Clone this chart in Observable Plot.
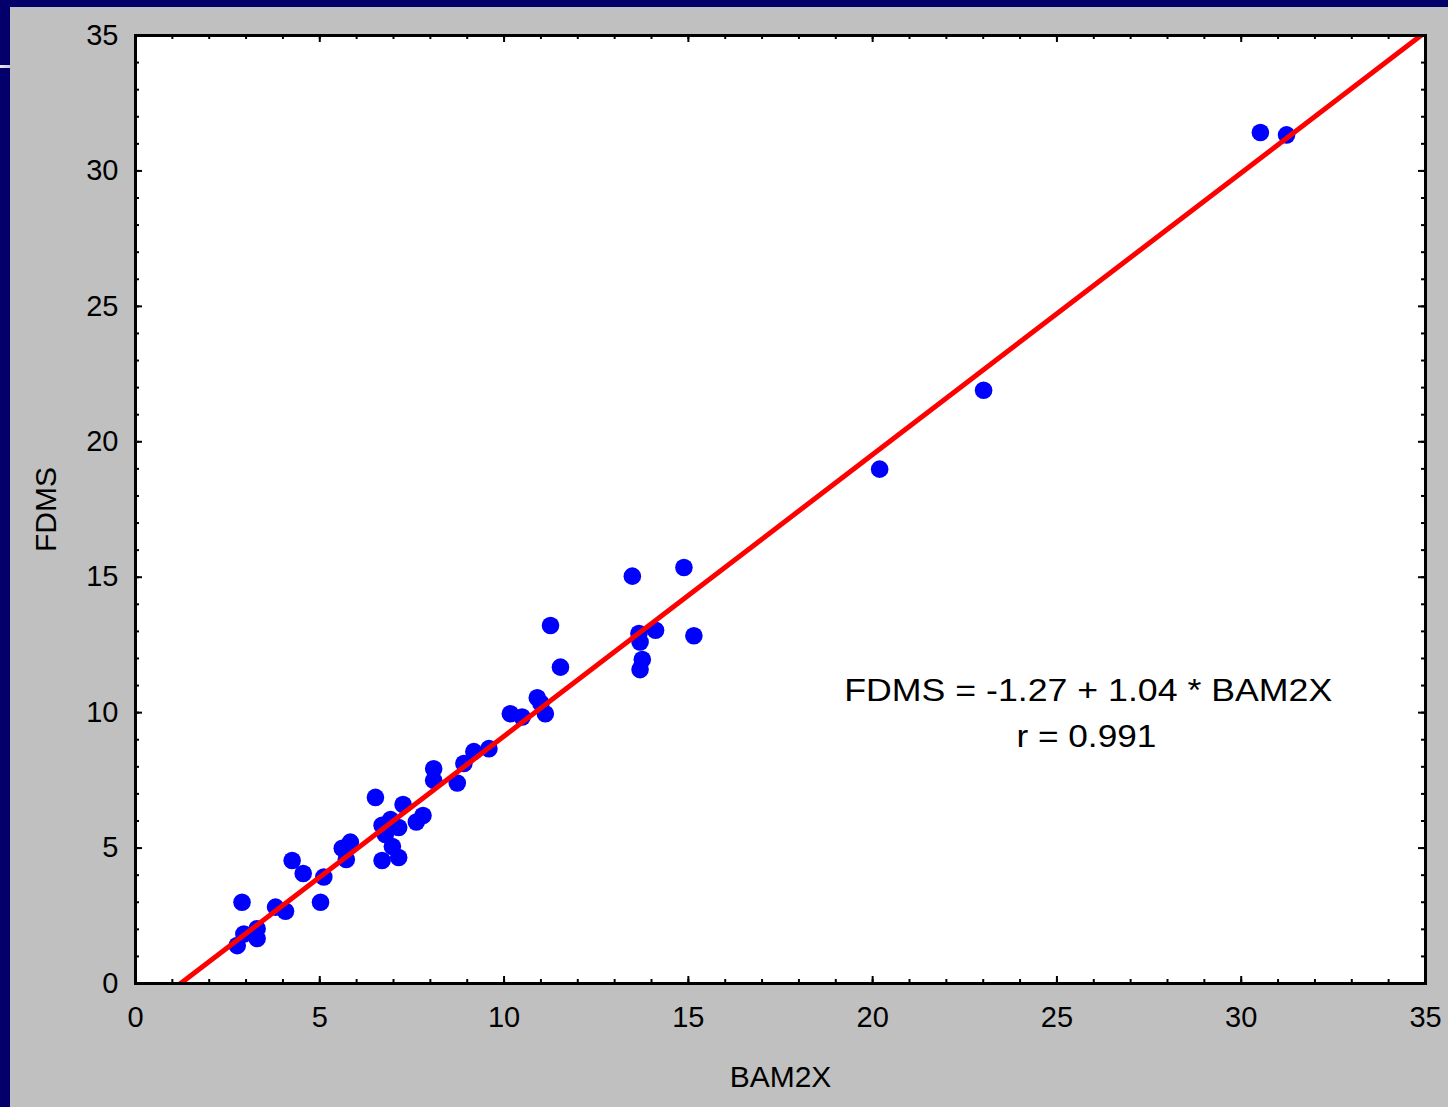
<!DOCTYPE html>
<html>
<head>
<meta charset="utf-8">
<script src="https://cdn.jsdelivr.net/npm/d3@7"></script>
<script src="https://cdn.jsdelivr.net/npm/@observablehq/plot@0.6"></script>
<style>
  html, body { margin: 0; padding: 0; background: #c0c0c0; }
  body { width: 1448px; height: 1107px; position: relative; overflow: hidden; font-family: "Liberation Sans", Arial, sans-serif; }
  #chart { position: absolute; left: 0; top: 0; }
  .navy { position: absolute; background: #03006b; }
  #streak { position: absolute; left: 0; top: 65px; width: 10px; height: 3px; background: linear-gradient(to right, #e8e8f4, #c8c8d8); }
</style>
</head>
<body>
<div id="chart"></div>
<div class="navy" style="left:0;top:0;width:1448px;height:7px;"></div>
<div class="navy" style="left:0;top:0;width:10px;height:1107px;"></div>
<div id="streak"></div>
<script>
// Data
const bam2x = [2.76, 2.94, 3.30, 3.30, 2.89, 3.80, 4.07, 4.25, 4.55, 5.11, 5.02, 5.61, 5.83, 5.72,
  6.51, 7.26, 6.69, 6.92, 7.14, 7.62, 7.80, 6.69, 6.97, 7.14, 6.78,
  8.09, 8.09, 8.73, 8.91, 9.18, 9.59, 10.17, 10.49, 10.90, 11.00, 11.12, 11.26, 11.53,
  13.48, 14.88, 13.66, 13.69, 14.11, 13.75, 13.69, 15.15, 20.19, 23.01, 30.52, 31.23];
const fdms = [1.40, 1.83, 2.02, 1.66, 3.00, 2.82, 2.67, 4.54, 4.06, 3.93, 3.00, 4.99, 5.22, 4.58,
  6.87, 6.61, 5.84, 6.05, 5.76, 5.96, 6.20, 4.54, 5.06, 4.65, 5.50,
  7.93, 7.50, 7.40, 8.12, 8.56, 8.67, 9.96, 9.84, 10.55, 10.35, 9.96, 13.22, 11.68,
  15.04, 15.36, 12.92, 12.61, 13.04, 11.96, 11.59, 12.84, 18.99, 21.90, 31.42, 31.33];

const intercept = -1.27;
const slope = 1.04;
const rValue = 0.991;

const axisDomain = [0, 35];
const majorTicks = [0, 5, 10, 15, 20, 25, 30, 35];
const minorTicks = d3.range(0, 36, 1);

const xLabel = "BAM2X";
const yLabel = "FDMS";
const eqLine = `FDMS = ${intercept.toFixed(2)} + ${slope.toFixed(2)} * BAM2X`;
const rLine = `r = ${rValue.toFixed(3)}`;

const points = bam2x.map((x, i) => ({x, y: fdms[i]}));
const fitLine = axisDomain.map(x => ({x, y: intercept + slope * x}));

const W = 1448, H = 1107;
const mL = 135, mR = 23, mT = 35, mB = 124;
const fw = W - mL - mR, fh = H - mT - mB;
const minorLen = 4, majorLen = 7;

const chart = Plot.plot({
  width: W,
  height: H,
  marginLeft: mL,
  marginRight: mR,
  marginTop: mT,
  marginBottom: mB,
  style: {background: "transparent", fontFamily: "'Liberation Sans', Arial, sans-serif", fontSize: "29px", color: "#000", overflow: "visible"},
  x: {domain: axisDomain, ticks: majorTicks, tickSize: 0, tickPadding: 23, label: null},
  y: {domain: axisDomain, ticks: majorTicks, tickSize: 0, tickPadding: 17, label: null},
  marks: [
    Plot.frame({fill: "#ffffff"}),
    // inward minor ticks on all four sides
    Plot.tickX(minorTicks, {x: d => d, insetTop: fh - minorLen, stroke: "#000", strokeWidth: 2}),
    Plot.tickX(minorTicks, {x: d => d, insetBottom: fh - minorLen, stroke: "#000", strokeWidth: 2}),
    Plot.tickY(minorTicks, {y: d => d, insetRight: fw - minorLen, stroke: "#000", strokeWidth: 2}),
    Plot.tickY(minorTicks, {y: d => d, insetLeft: fw - minorLen, stroke: "#000", strokeWidth: 2}),
    // inward major ticks
    Plot.tickX(majorTicks, {x: d => d, insetTop: fh - majorLen, stroke: "#000", strokeWidth: 2}),
    Plot.tickX(majorTicks, {x: d => d, insetBottom: fh - majorLen, stroke: "#000", strokeWidth: 2}),
    Plot.tickY(majorTicks, {y: d => d, insetRight: fw - majorLen, stroke: "#000", strokeWidth: 2}),
    Plot.tickY(majorTicks, {y: d => d, insetLeft: fw - majorLen, stroke: "#000", strokeWidth: 2}),
    Plot.dot(points, {x: "x", y: "y", r: 8.8, fill: "#0000ff", stroke: "none"}),
    Plot.line(fitLine, {x: "x", y: "y", stroke: "#ff0000", strokeWidth: 5, clip: true}),
    Plot.frame({stroke: "#000", strokeWidth: 3}),
    Plot.text([eqLine], {x: () => 25.85, y: () => 10.78, text: d => d, fontSize: 31, fill: "#000", textAnchor: "middle"}),
    Plot.text([rLine], {x: () => 25.8, y: () => 9.08, text: d => d, fontSize: 31, fill: "#000", textAnchor: "middle"}),
    Plot.text([xLabel], {frameAnchor: "bottom", dy: 103, text: d => d, fontSize: 30, fill: "#000", textAnchor: "middle"}),
    Plot.text([yLabel], {frameAnchor: "left", dx: -89, rotate: -90, text: d => d, fontSize: 30, fill: "#000", textAnchor: "middle"})
  ]
});
document.getElementById("chart").appendChild(chart);

// stretch the annotation lines horizontally as in the reference
chart.querySelectorAll("text").forEach(t => {
  if (t.textContent === eqLine) { t.setAttribute("textLength", 488); t.setAttribute("lengthAdjust", "spacingAndGlyphs"); }
  if (t.textContent === rLine) { t.setAttribute("textLength", 140); t.setAttribute("lengthAdjust", "spacingAndGlyphs"); }
});
</script>
</body>
</html>
